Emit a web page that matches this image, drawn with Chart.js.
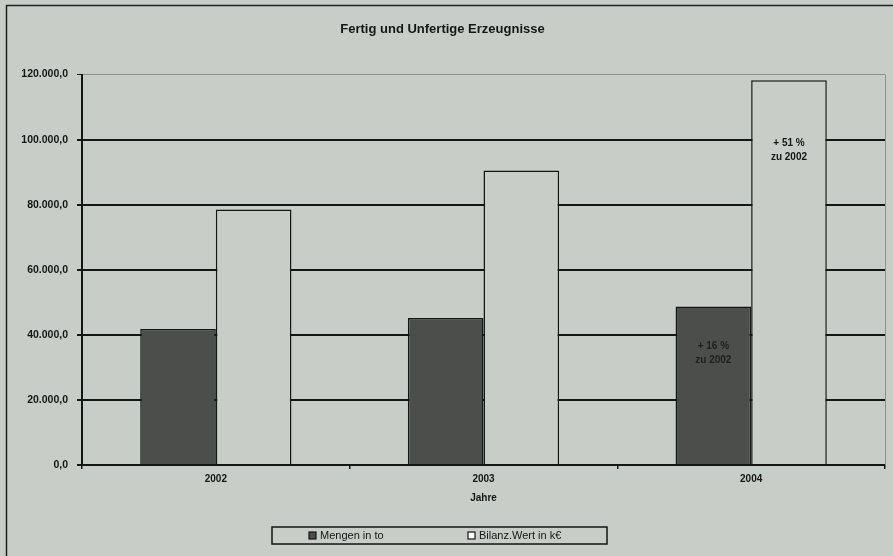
<!DOCTYPE html>
<html>
<head>
<meta charset="utf-8">
<script src="https://cdn.jsdelivr.net/npm/chart.js@4"></script>
<style>
  html, body { margin: 0; padding: 0; background: #c7cec8; }
  #wrap { width: 893px; height: 556px; }
</style>
</head>
<body>
<div id="wrap"><canvas id="chart"></canvas></div>
<script>
const years = ['2002', '2003', '2004'];
const mengen = [41800, 45200, 48700];
const bilanzWert = [78500, 90500, 118300];
const yTickLabels = ['0,0', '20.000,0', '40.000,0', '60.000,0', '80.000,0', '100.000,0', '120.000,0'];
const seriesNames = ['Mengen in to', 'Bilanz.Wert in k€'];
const notes = [
    { dataset: 1, index: 2, lines: ['+ 51 %', 'zu 2002'], at: 99000 },
    { dataset: 0, index: 2, lines: ['+ 16 %', 'zu 2002'], at: 36500 }
];

const bg = '#c7cec8';
const ink = '#151515';
const fontFamily = '"Liberation Sans", Arial, sans-serif';

// Rahmen, Legende und Beschriftungen in den Balken
const extras = {
    id: 'extras',
    beforeDatasetsDraw(chart) {
        const { ctx, chartArea: a } = chart;
        ctx.save();
        ctx.strokeStyle = '#8d928d';
        ctx.lineWidth = 1;
        ctx.beginPath();
        ctx.moveTo(a.right + 0.5, a.top);
        ctx.lineTo(a.right + 0.5, a.bottom);
        ctx.stroke();
        ctx.restore();
    },
    afterDraw(chart) {
        const { ctx } = chart;
        ctx.save();
        // äußerer Rahmen
        ctx.strokeStyle = '#222';
        ctx.lineWidth = 1.5;
        ctx.beginPath();
        ctx.moveTo(6.5, chart.height + 5);
        ctx.lineTo(6.5, 5.5);
        ctx.lineTo(chart.width + 5, 5.5);
        ctx.stroke();

        // Legende
        ctx.strokeStyle = ink;
        ctx.lineWidth = 1.5;
        ctx.strokeRect(272, 527, 335, 17);
        ctx.font = '11px ' + fontFamily;
        ctx.textBaseline = 'middle';
        const fills = ['#4b4e4b', '#ffffff'];
        const starts = [309, 468];
        seriesNames.forEach((name, i) => {
            ctx.fillStyle = fills[i];
            ctx.fillRect(starts[i], 532, 7, 7);
            ctx.lineWidth = 1.2;
            ctx.strokeRect(starts[i], 532, 7, 7);
            ctx.fillStyle = ink;
            ctx.textAlign = 'left';
            ctx.fillText(name, starts[i] + 11, 536);
        });

        // Notizen
        const y = chart.scales.y;
        ctx.font = 'bold 10px ' + fontFamily;
        ctx.textAlign = 'center';
        notes.forEach(n => {
            const bar = chart.getDatasetMeta(n.dataset).data[n.index];
            ctx.fillStyle = n.dataset === 0 ? '#1e201e' : ink;
            n.lines.forEach((t, k) => {
                ctx.fillText(t, bar.x, y.getPixelForValue(n.at) + k * 14);
            });
        });
        ctx.restore();
    }
};

const config = {
    type: 'bar',
    data: {
        labels: years,
        datasets: [{
            label: seriesNames[0],
            data: mengen,
            backgroundColor: '#4b4e4b',
            borderColor: ink,
            borderWidth: 1.5,
            barPercentage: 1,
            categoryPercentage: 0.565
        }, {
            label: seriesNames[1],
            data: bilanzWert,
            backgroundColor: bg,
            borderColor: ink,
            borderWidth: 1.5,
            barPercentage: 1,
            categoryPercentage: 0.565
        }]
    },
    options: {
        responsive: true,
        maintainAspectRatio: false,
        animation: false,
        layout: { padding: { left: 0, right: 8, top: 0, bottom: 51 } },
        plugins: {
            legend: { display: false },
            tooltip: { enabled: false },
            title: {
                display: true,
                text: 'Fertig und Unfertige Erzeugnisse',
                color: ink,
                font: { family: fontFamily, size: 13, weight: 'bold' },
                padding: { top: 22, bottom: 37 }
            }
        },
        scales: {
            x: {
                grid: {
                    drawOnChartArea: false,
                    tickLength: 4,
                    tickColor: ink,
                    lineWidth: 1.5
                },
                border: { color: ink, width: 2 },
                ticks: {
                    color: ink,
                    padding: 4,
                    font: { family: fontFamily, size: 10, weight: 'bold' }
                },
                title: {
                    display: true,
                    text: 'Jahre',
                    color: ink,
                    font: { family: fontFamily, size: 10, weight: 'bold' },
                    padding: { top: 4, bottom: 1 }
                },
                afterFit(scale) { scale.height = 40; }
            },
            y: {
                min: 0,
                max: 120000,
                grid: {
                    color: c => (c.tick && c.tick.value === 120000) ? '#8d928d' : ink,
                    lineWidth: c => (c.tick && c.tick.value === 120000) ? 1 : 2,
                    tickColor: ink,
                    tickLength: 5
                },
                border: { color: ink, width: 2 },
                ticks: {
                    stepSize: 20000,
                    color: ink,
                    padding: 9,
                    font: { family: fontFamily, size: 10.5, weight: 'bold' },
                    callback: (v, i) => yTickLabels[i]
                },
                afterFit(scale) { scale.width = 82; }
            }
        }
    },
    plugins: [extras]
};

const myChart = new Chart(document.getElementById('chart'), config);
</script>
</body>
</html>
